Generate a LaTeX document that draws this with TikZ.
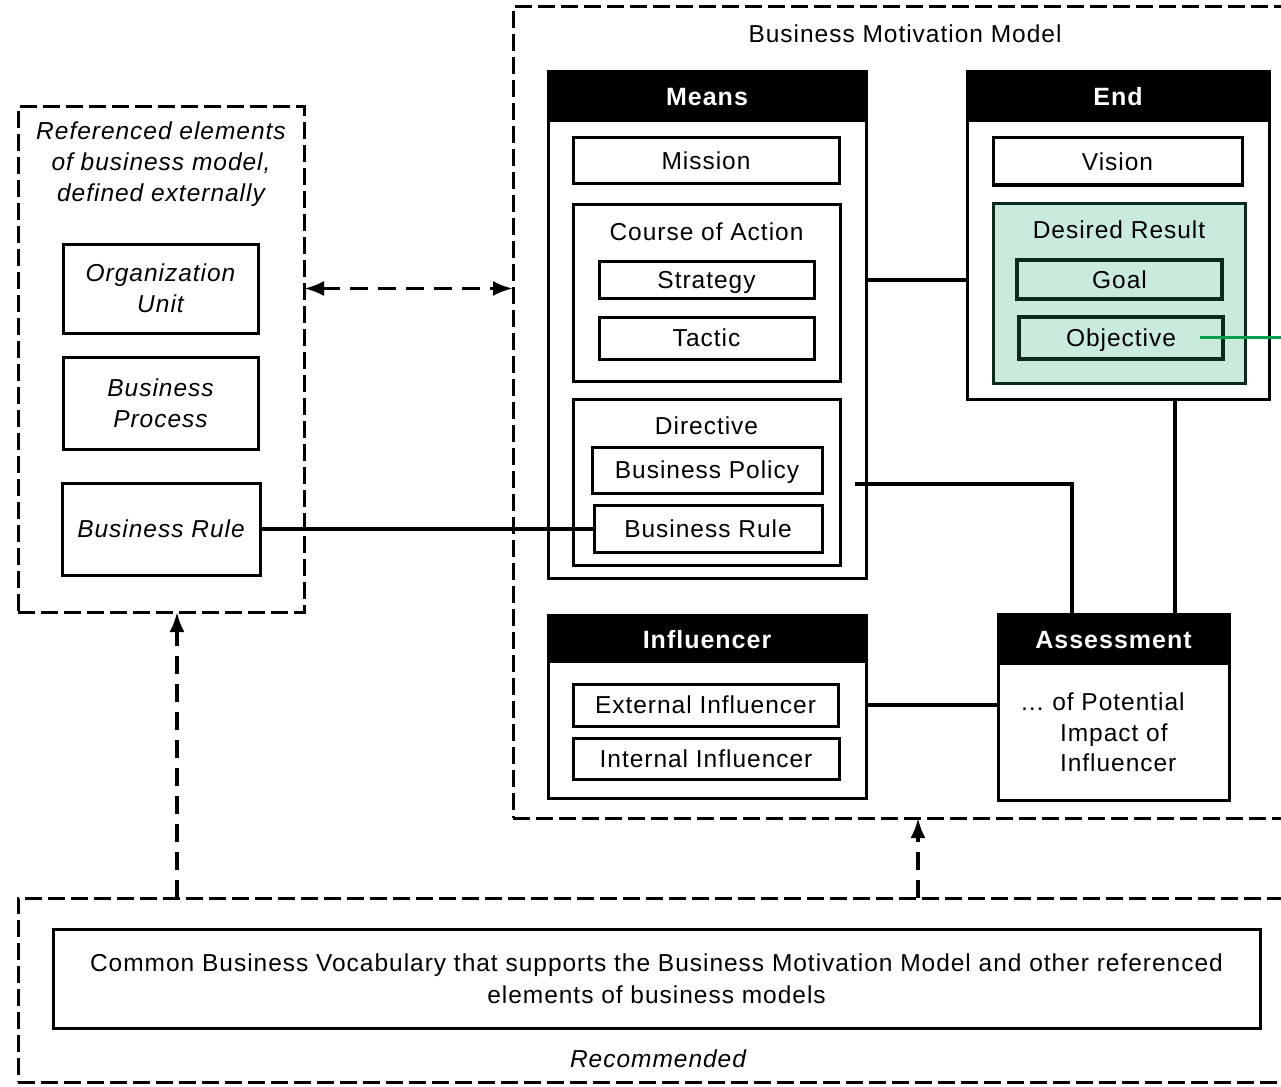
\documentclass[tikz,border=0pt]{standalone}
\usepackage{fontspec}
\setmainfont[LetterSpace=4]{Liberation Sans}
\usetikzlibrary{arrows.meta,calc}
\definecolor{resultfill}{HTML}{C9EBDC}
\definecolor{resultline}{HTML}{0B2A1C}
\definecolor{linkgreen}{HTML}{00A04E}

\begin{document}
\begin{tikzpicture}[x=1pt,y=-1pt,
  every node/.style={font=\fontsize{24.5}{29}\selectfont, inner sep=0pt, outer sep=0pt},
  sz/.style 2 args={minimum width=#1pt, minimum height=#2pt},
  oneline/.style={text height=17.5pt, text depth=0pt},
  box/.style={draw, line width=3pt, fill=white, align=center},
  frame/.style={draw, line width=3pt, dash pattern=on 17pt off 6pt},
  hdr/.style={fill=black, text=white, text height=18pt, text depth=0pt, font=\fontsize{25}{30}\selectfont\bfseries},
  result/.style={box, fill=resultfill, draw=resultline},
  link/.style={line width=4pt},
  tipref/.tip={Latex[length=20pt,width=15pt]},
  ref/.style={line width=3.5pt, dash pattern=on 18pt off 10pt},
]
\useasboundingbox (0,0) rectangle (1281,1086);
\clip (0,0) rectangle (1281,1086);

% dashed frames
\node[frame, sz={286}{505}] (leftbox) at (161,359.5) {};
\node[frame, sz={777}{811}] (bmm) at (901.5,412.5) {};
\node[frame, sz={1277}{184}] (recframe) at (656.5,990) {};

% externally defined elements
\node[font=\fontsize{24.5}{31}\selectfont\itshape, align=center] (reflbl) at (161,164)
  {Referenced elements\\of business model,\\defined externally};
\node[box, sz={195}{89}, font=\fontsize{24.5}{31}\selectfont\itshape] (orgunit) at (160.5,288.5) {Organization\\Unit};
\node[box, sz={195}{92}, font=\fontsize{24.5}{31}\selectfont\itshape] (bproc) at (160.5,403) {Business\\Process};
\node[box, oneline, sz={198}{92}, font=\fontsize{24.5}{31}\selectfont\itshape] (brule) at (161,529) {Business Rule};

% Business Motivation Model
\node[oneline] (bmmlbl) at (905,34) {Business Motivation Model};

% Means
\node[box, sz={318}{506}] (means) at (707,325) {};
\node[hdr, sz={318}{50}] (meanshd) at (707,97) {Means};
\node[box, oneline, sz={266}{46}] (mission) at (706,161) {Mission};
\node[box, sz={267}{177}] (coa) at (706.5,292.5) {};
\node[oneline] (coalbl) at (706.5,232) {Course of Action};
\node[box, oneline, sz={215}{37}] (strategy) at (706.5,279.5) {Strategy};
\node[box, oneline, sz={215}{42}] (tactic) at (706.5,338) {Tactic};
\node[box, sz={267}{166}] (directive) at (706.5,482) {};
\node[oneline] (dirlbl) at (706.5,426) {Directive};
\node[box, oneline, sz={230}{46}] (bpolicy) at (707,470) {Business Policy};
\node[box, oneline, sz={228}{47}] (brule2) at (708,529) {Business Rule};

% End
\node[box, sz={302}{327}] (end) at (1118,235.5) {};
\node[hdr, sz={302}{50}] (endhd) at (1118,97) {End};
\node[box, oneline, sz={249}{47}] (vision) at (1117.5,161.5) {Vision};
\node[result, sz={252}{180}] (desired) at (1119,293) {};
\node[oneline] (desiredlbl) at (1119,230) {Desired Result};
\node[result, oneline, line width=4pt, sz={205}{39}] (goal) at (1119.5,279.5) {Goal};
\node[result, oneline, line width=4pt, sz={204}{42}] (objective) at (1121,338) {Objective};

% Influencer
\node[box, sz={318}{183}] (influencer) at (707,706.5) {};
\node[hdr, sz={318}{48}] (inflhd) at (707,639) {Influencer};
\node[box, oneline, sz={265}{42}] (extinf) at (705.5,705) {External Influencer};
\node[box, oneline, sz={266}{41}] (intinf) at (706,758.5) {Internal Influencer};

% Assessment
\node[box, sz={231}{186}] (assess) at (1113.5,707) {};
\node[hdr, sz={231}{51}] (assesshd) at (1113.5,639.5) {Assessment};
\node[align=left, anchor=west, font=\fontsize{24.5}{30.5}\selectfont] (assesstxt) at (1020,732.5)
  {\dots\ of Potential\\\hspace*{40pt}Impact of\\\hspace*{40pt}Influencer};

% Common vocabulary
\node[box, sz={1207}{99}, font=\fontsize{24.5}{32}\selectfont] (vocab) at (656.5,978.5)
  {Common Business Vocabulary that supports the Business Motivation Model and other referenced\\elements of business models};
\node[oneline, font=\fontsize{24.5}{29}\selectfont\itshape] (reclbl) at (658,1059) {Recommended};

% connectors
\coordinate (dirtail) at (855,484);
\coordinate (dirin) at (1072,614);
\coordinate (endx) at (1175,0);
\coordinate (vx1) at (177,0);
\coordinate (vx2) at (918,0);
\coordinate (objtail) at (1200,337);
\coordinate (objout) at (1300,337);

\draw[link] (means.east |- strategy) -- (end.west |- strategy);
\draw[link] (brule.east) -- (brule2.west);
\draw[link] (dirtail) -| (dirin);
\draw[link] (end.south -| endx) -- (assess.north -| endx);
\draw[link] (influencer.east |- extinf) -- (assess.west |- extinf);
\draw[line width=3pt, linkgreen] (objtail) -- (objout);

\draw[ref, tipref-tipref] (leftbox.east |- orgunit) -- (bmm.west |- orgunit);
\draw[ref, -tipref] (recframe.north -| vx1) -- (leftbox.south -| vx1);
\draw[ref, -tipref] (recframe.north -| vx2) -- (bmm.south -| vx2);
\end{tikzpicture}
\end{document}
